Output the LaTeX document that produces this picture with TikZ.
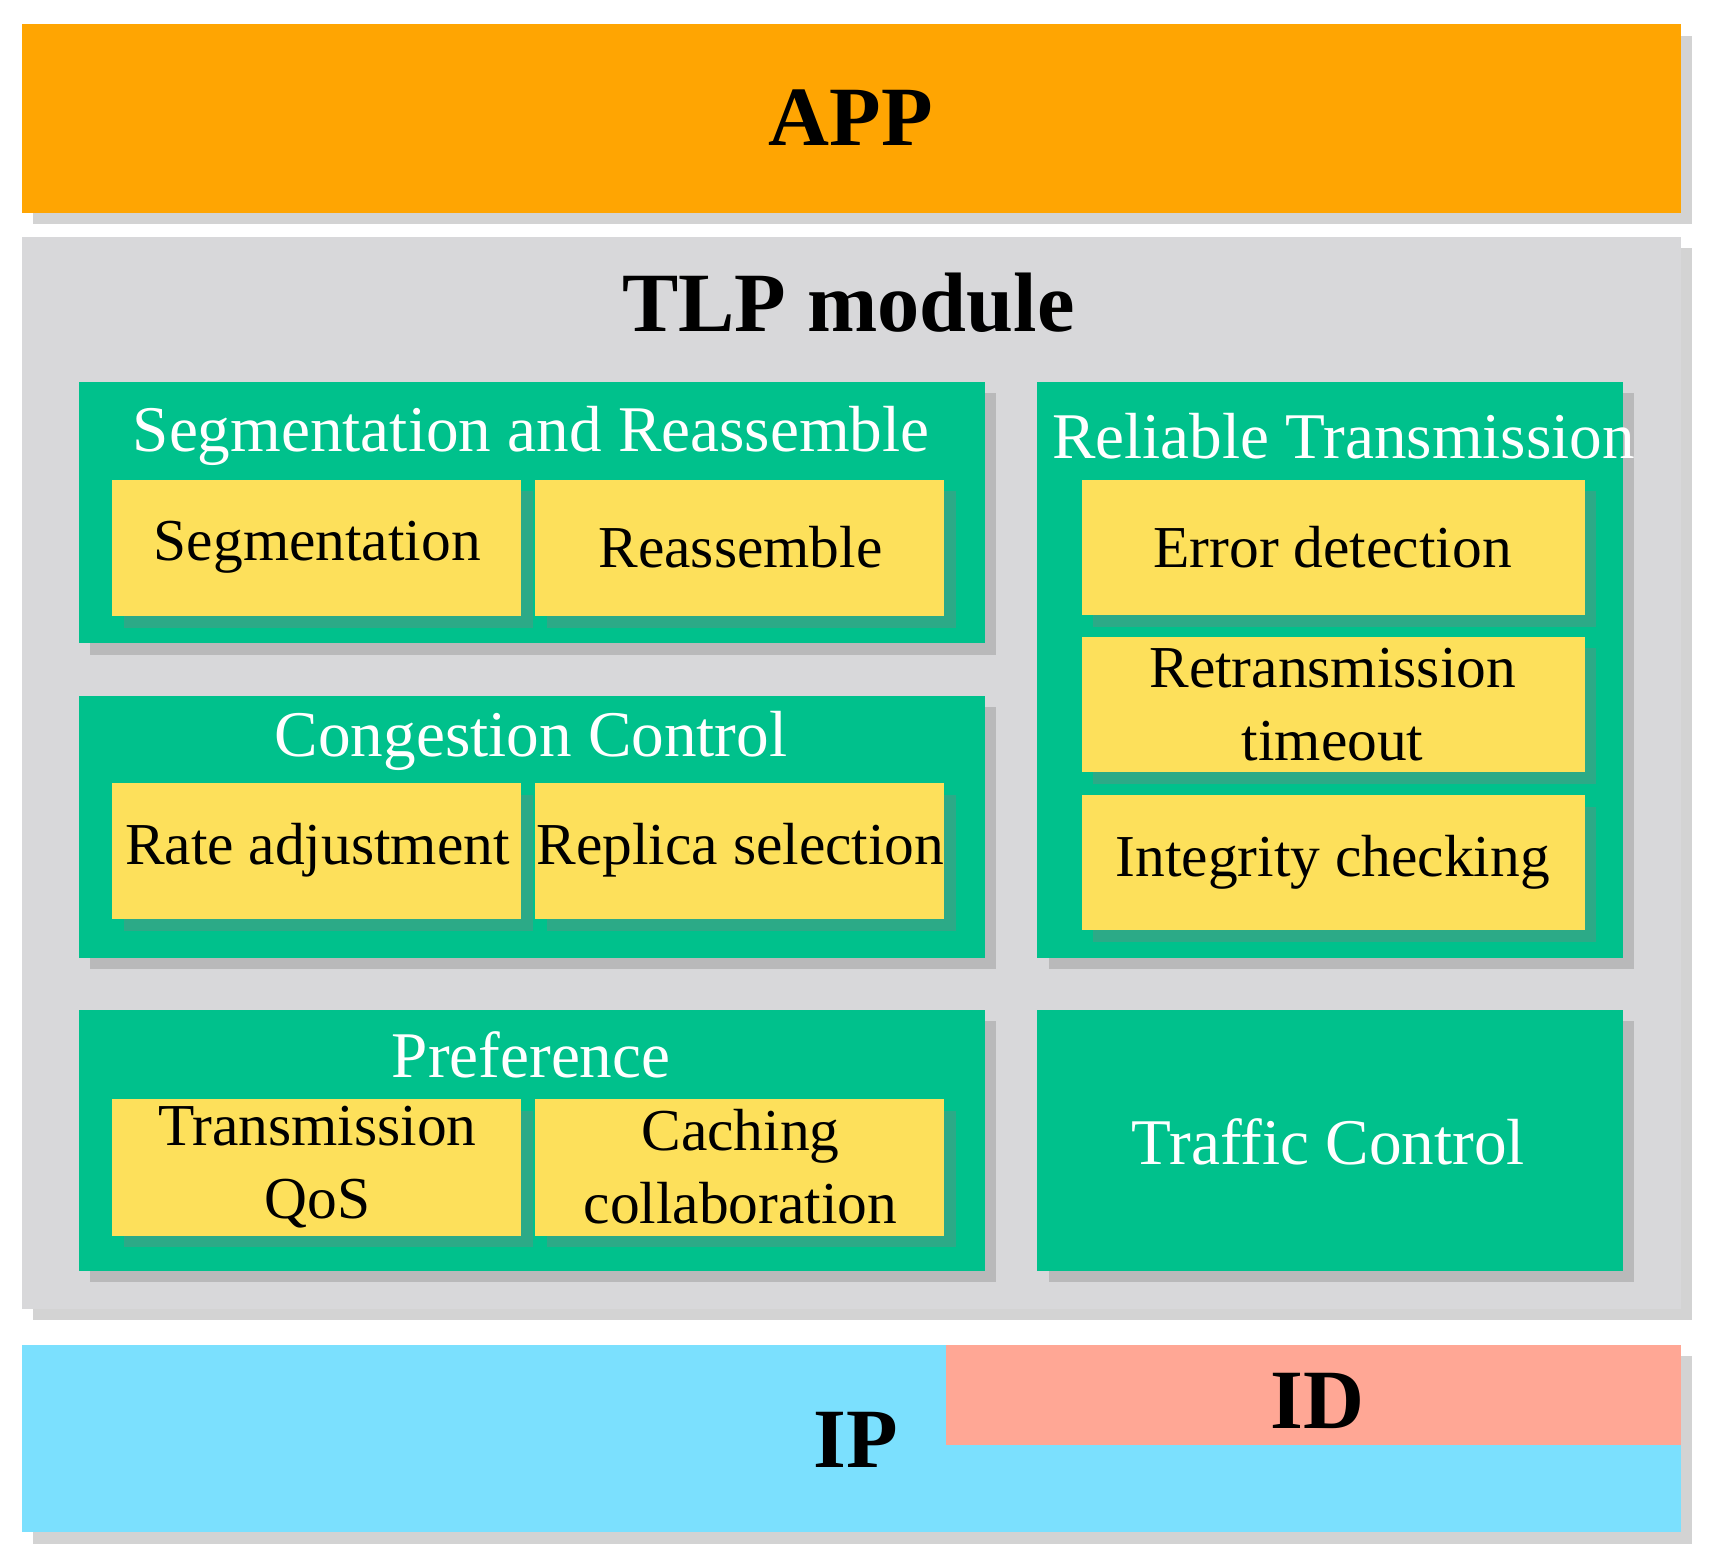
\documentclass[tikz,border=0pt]{standalone}
\usepackage{fontspec}
\setmainfont{Liberation Serif}
\usetikzlibrary{shadows}
\definecolor{appc}{HTML}{FFA502}
\definecolor{tlpc}{HTML}{D8D8DA}
\definecolor{grpc}{HTML}{00C18C}
\definecolor{itemc}{HTML}{FDE05B}
\definecolor{ipc}{HTML}{7BE0FE}
\definecolor{idc}{HTML}{FFA795}
\begin{document}
\begin{tikzpicture}[x=0.01cm, y=-0.01cm,
		shad/.style={drop shadow={opacity=0.35, shadow xshift=3pt, shadow yshift=-3pt}},
		layer/.style={fill=#1, shad},
		group/.style={fill=grpc, shad},
		item/.style={fill=itemc, shad},
		ltitle/.style={font=\fontsize{22}{24}\selectfont\bfseries},
		gtitle/.style={text=white, font=\fontsize{17}{20}\selectfont},
		itext/.style={align=center, font=\fontsize{15.5}{19}\selectfont},
	]
		\useasboundingbox (0,0) rectangle (1568,1433);
		% layers
		\fill[layer=appc] (20,22) rectangle (1541,195);
		\node[ltitle] (app) at (780,108) {APP};
		\fill[layer=tlpc] (20,217) rectangle (1541,1200);
		\node[ltitle] (tlp) at (778,278) {TLP module};
		\fill[layer=ipc] (20,1233) rectangle (1541,1405);
		\fill[fill=idc] (867,1233) rectangle (1541,1325);
		\node[ltitle] (ip) at (785,1320) {IP};
		\node[ltitle] (id) at (1208,1285) {ID};
		% groups
		\fill[group] (72,350) rectangle (903,590);
		\node[gtitle] (seg) at (487,400) {Segmentation and Reassemble};
		\fill[group] (72,638) rectangle (903,878);
		\node[gtitle] (cc) at (487,679) {Congestion Control};
		\fill[group] (72,926) rectangle (903,1165);
		\node[gtitle] (pref) at (487,967) {Preference};
		\fill[group] (951,350) rectangle (1488,878);
		\node[gtitle] (rt) at (1232,400) {Reliable Transmission};
		\fill[group] (951,926) rectangle (1488,1165);
		\node[gtitle] (tc) at (1218,1047) {Traffic Control};
		% items
		\foreach \y/\a/\b [count=\i] in {440/Segmentation/Reassemble,
				718/Rate adjustment/Replica selection,
				1008/Transmission\\QoS/Caching\\collaboration} {
			\fill[item] (103,\y) rectangle (478,\y+125);
			\fill[item] (491,\y) rectangle (866,\y+125);
			\node[itext] (l\i) at (291,\y+62) {\a};
			\node[itext] (r\i) at (679,\y+62) {\b};
		}
		\foreach \y/\t [count=\i] in {440/Error detection,
				584/Retransmission\\timeout,
				729/Integrity checking} {
			\fill[item] (992,\y) rectangle (1453,\y+124);
			\node[itext] (rt\i) at (1222,\y+62) {\t};
		}
	\end{tikzpicture}
\end{document}
